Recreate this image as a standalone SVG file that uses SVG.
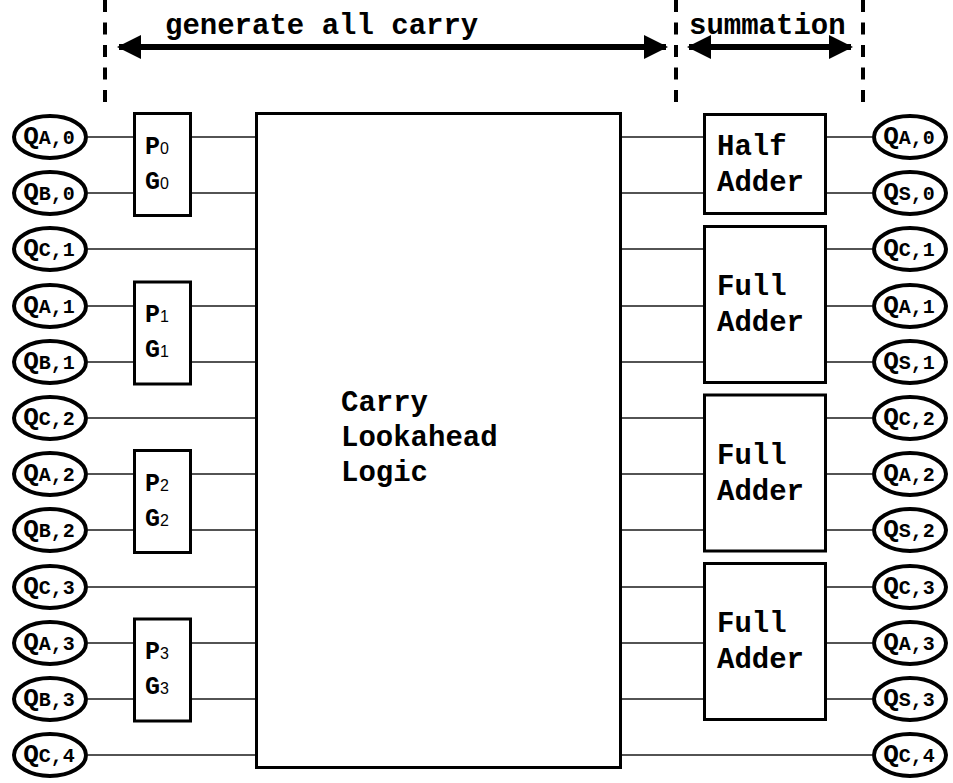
<svg xmlns="http://www.w3.org/2000/svg" width="953" height="783" viewBox="0 0 953 783">
<style>
.box{fill:#fff;stroke:#000;stroke-width:3}
.ell{fill:#fff;stroke:#000;stroke-width:4}
.w{stroke:#1a1a1a;stroke-width:1.5;fill:none}
.dash{stroke:#000;stroke-width:4;stroke-dasharray:12 10.5;fill:none}
.arr{stroke:#000;stroke-width:6;fill:none}
.mono{font-family:"Liberation Mono","Courier New",monospace;font-weight:bold;fill:#000}
.big{font-size:29px}
.q{font-size:26px;text-anchor:middle}
.s{font-size:20px}
.pg{font-size:25px}
.sub{font-family:"Liberation Sans",Arial,sans-serif;font-weight:normal;font-size:16px}
</style>
<defs>
<marker id="ah" viewBox="0 0 24 24" markerWidth="24" markerHeight="24" refX="22" refY="12" orient="auto-start-reverse" markerUnits="userSpaceOnUse">
<path d="M0,0 L24,12 L0,24 Z" fill="#000"/>
</marker>
</defs>
<rect width="953" height="783" fill="#fff"/>
<g id="connectors">
<line class="dash" x1="105" y1="0" x2="105" y2="112"/>
<line class="dash" x1="676" y1="0" x2="676" y2="112"/>
<line class="dash" x1="863" y1="0" x2="863" y2="112"/>
<line class="arr" x1="119" y1="47" x2="666" y2="47" marker-start="url(#ah)" marker-end="url(#ah)"/>
<line class="arr" x1="689" y1="47" x2="851" y2="47" marker-start="url(#ah)" marker-end="url(#ah)"/>
<!-- left side -->
<line class="w" x1="88" y1="137" x2="133" y2="137"/><line class="w" x1="192" y1="137" x2="255" y2="137"/>
<line class="w" x1="88" y1="193" x2="133" y2="193"/><line class="w" x1="192" y1="193" x2="255" y2="193"/>
<line class="w" x1="88" y1="249" x2="255" y2="249"/>
<line class="w" x1="88" y1="306" x2="133" y2="306"/><line class="w" x1="192" y1="306" x2="255" y2="306"/>
<line class="w" x1="88" y1="362" x2="133" y2="362"/><line class="w" x1="192" y1="362" x2="255" y2="362"/>
<line class="w" x1="88" y1="418" x2="255" y2="418"/>
<line class="w" x1="88" y1="474" x2="133" y2="474"/><line class="w" x1="192" y1="474" x2="255" y2="474"/>
<line class="w" x1="88" y1="530" x2="133" y2="530"/><line class="w" x1="192" y1="530" x2="255" y2="530"/>
<line class="w" x1="88" y1="587" x2="255" y2="587"/>
<line class="w" x1="88" y1="643" x2="133" y2="643"/><line class="w" x1="192" y1="643" x2="255" y2="643"/>
<line class="w" x1="88" y1="699" x2="133" y2="699"/><line class="w" x1="192" y1="699" x2="255" y2="699"/>
<line class="w" x1="88" y1="755" x2="255" y2="755"/>
<!-- right side -->
<line class="w" x1="622" y1="137" x2="703" y2="137"/><line class="w" x1="827" y1="137" x2="872" y2="137"/>
<line class="w" x1="622" y1="193" x2="703" y2="193"/><line class="w" x1="827" y1="193" x2="872" y2="193"/>
<line class="w" x1="622" y1="249" x2="703" y2="249"/><line class="w" x1="827" y1="249" x2="872" y2="249"/>
<line class="w" x1="622" y1="306" x2="703" y2="306"/><line class="w" x1="827" y1="306" x2="872" y2="306"/>
<line class="w" x1="622" y1="362" x2="703" y2="362"/><line class="w" x1="827" y1="362" x2="872" y2="362"/>
<line class="w" x1="622" y1="418" x2="703" y2="418"/><line class="w" x1="827" y1="418" x2="872" y2="418"/>
<line class="w" x1="622" y1="474" x2="703" y2="474"/><line class="w" x1="827" y1="474" x2="872" y2="474"/>
<line class="w" x1="622" y1="530" x2="703" y2="530"/><line class="w" x1="827" y1="530" x2="872" y2="530"/>
<line class="w" x1="622" y1="587" x2="703" y2="587"/><line class="w" x1="827" y1="587" x2="872" y2="587"/>
<line class="w" x1="622" y1="643" x2="703" y2="643"/><line class="w" x1="827" y1="643" x2="872" y2="643"/>
<line class="w" x1="622" y1="699" x2="703" y2="699"/><line class="w" x1="827" y1="699" x2="872" y2="699"/>
<line class="w" x1="622" y1="755" x2="872" y2="755"/>
</g>
<text class="mono big" x="165" y="34">generate all carry</text>
<text class="mono big" x="689" y="34">summation</text>
<g id="cla">
<rect class="box" x="256.5" y="113.5" width="364" height="654"/>
<text class="mono big" x="341" y="411">Carry</text>
<text class="mono big" x="341" y="446">Lookahead</text>
<text class="mono big" x="341" y="481">Logic</text>
</g>
<g id="pg0"><rect class="box" x="134.5" y="113.5" width="56" height="102"/>
<text class="mono pg" x="145" y="154">P<tspan class="sub">0</tspan></text>
<text class="mono pg" x="145" y="189">G<tspan class="sub">0</tspan></text></g>
<g id="pg1"><rect class="box" x="134.5" y="282" width="56" height="102"/>
<text class="mono pg" x="145" y="322">P<tspan class="sub">1</tspan></text>
<text class="mono pg" x="145" y="357">G<tspan class="sub">1</tspan></text></g>
<g id="pg2"><rect class="box" x="134.5" y="450.5" width="56" height="102"/>
<text class="mono pg" x="145" y="491">P<tspan class="sub">2</tspan></text>
<text class="mono pg" x="145" y="526">G<tspan class="sub">2</tspan></text></g>
<g id="pg3"><rect class="box" x="134.5" y="619" width="56" height="102"/>
<text class="mono pg" x="145" y="659">P<tspan class="sub">3</tspan></text>
<text class="mono pg" x="145" y="694">G<tspan class="sub">3</tspan></text></g>
<g id="ha0"><rect class="box" x="704.5" y="114.5" width="121" height="99"/>
<text class="mono big" x="717" y="155">Half</text>
<text class="mono big" x="717" y="191">Adder</text></g>
<g id="fa1"><rect class="box" x="704.5" y="226.5" width="121" height="156"/>
<text class="mono big" x="717" y="295">Full</text>
<text class="mono big" x="717" y="331">Adder</text></g>
<g id="fa2"><rect class="box" x="704.5" y="395" width="121" height="156"/>
<text class="mono big" x="717" y="463.5">Full</text>
<text class="mono big" x="717" y="499.5">Adder</text></g>
<g id="fa3"><rect class="box" x="704.5" y="563.5" width="121" height="156"/>
<text class="mono big" x="717" y="632">Full</text>
<text class="mono big" x="717" y="668">Adder</text></g>
<g id="inA0"><ellipse class="ell" cx="50" cy="137" rx="36" ry="21"/><text class="mono q" x="49" y="144">Q<tspan class="s">A,0</tspan></text></g>
<g id="inB0"><ellipse class="ell" cx="50" cy="193" rx="36" ry="21"/><text class="mono q" x="49" y="200">Q<tspan class="s">B,0</tspan></text></g>
<g id="inC1"><ellipse class="ell" cx="50" cy="249" rx="36" ry="21"/><text class="mono q" x="49" y="256">Q<tspan class="s">C,1</tspan></text></g>
<g id="inA1"><ellipse class="ell" cx="50" cy="306" rx="36" ry="21"/><text class="mono q" x="49" y="313">Q<tspan class="s">A,1</tspan></text></g>
<g id="inB1"><ellipse class="ell" cx="50" cy="362" rx="36" ry="21"/><text class="mono q" x="49" y="369">Q<tspan class="s">B,1</tspan></text></g>
<g id="inC2"><ellipse class="ell" cx="50" cy="418" rx="36" ry="21"/><text class="mono q" x="49" y="425">Q<tspan class="s">C,2</tspan></text></g>
<g id="inA2"><ellipse class="ell" cx="50" cy="474" rx="36" ry="21"/><text class="mono q" x="49" y="481">Q<tspan class="s">A,2</tspan></text></g>
<g id="inB2"><ellipse class="ell" cx="50" cy="530" rx="36" ry="21"/><text class="mono q" x="49" y="537">Q<tspan class="s">B,2</tspan></text></g>
<g id="inC3"><ellipse class="ell" cx="50" cy="587" rx="36" ry="21"/><text class="mono q" x="49" y="594">Q<tspan class="s">C,3</tspan></text></g>
<g id="inA3"><ellipse class="ell" cx="50" cy="643" rx="36" ry="21"/><text class="mono q" x="49" y="650">Q<tspan class="s">A,3</tspan></text></g>
<g id="inB3"><ellipse class="ell" cx="50" cy="699" rx="36" ry="21"/><text class="mono q" x="49" y="706">Q<tspan class="s">B,3</tspan></text></g>
<g id="inC4"><ellipse class="ell" cx="50" cy="755" rx="36" ry="21"/><text class="mono q" x="49" y="762">Q<tspan class="s">C,4</tspan></text></g>
<g id="outA0"><ellipse class="ell" cx="910" cy="137" rx="36" ry="21"/><text class="mono q" x="909" y="144">Q<tspan class="s">A,0</tspan></text></g>
<g id="outS0"><ellipse class="ell" cx="910" cy="193" rx="36" ry="21"/><text class="mono q" x="909" y="200">Q<tspan class="s">S,0</tspan></text></g>
<g id="outC1"><ellipse class="ell" cx="910" cy="249" rx="36" ry="21"/><text class="mono q" x="909" y="256">Q<tspan class="s">C,1</tspan></text></g>
<g id="outA1"><ellipse class="ell" cx="910" cy="306" rx="36" ry="21"/><text class="mono q" x="909" y="313">Q<tspan class="s">A,1</tspan></text></g>
<g id="outS1"><ellipse class="ell" cx="910" cy="362" rx="36" ry="21"/><text class="mono q" x="909" y="369">Q<tspan class="s">S,1</tspan></text></g>
<g id="outC2"><ellipse class="ell" cx="910" cy="418" rx="36" ry="21"/><text class="mono q" x="909" y="425">Q<tspan class="s">C,2</tspan></text></g>
<g id="outA2"><ellipse class="ell" cx="910" cy="474" rx="36" ry="21"/><text class="mono q" x="909" y="481">Q<tspan class="s">A,2</tspan></text></g>
<g id="outS2"><ellipse class="ell" cx="910" cy="530" rx="36" ry="21"/><text class="mono q" x="909" y="537">Q<tspan class="s">S,2</tspan></text></g>
<g id="outC3"><ellipse class="ell" cx="910" cy="587" rx="36" ry="21"/><text class="mono q" x="909" y="594">Q<tspan class="s">C,3</tspan></text></g>
<g id="outA3"><ellipse class="ell" cx="910" cy="643" rx="36" ry="21"/><text class="mono q" x="909" y="650">Q<tspan class="s">A,3</tspan></text></g>
<g id="outS3"><ellipse class="ell" cx="910" cy="699" rx="36" ry="21"/><text class="mono q" x="909" y="706">Q<tspan class="s">S,3</tspan></text></g>
<g id="outC4"><ellipse class="ell" cx="910" cy="755" rx="36" ry="21"/><text class="mono q" x="909" y="762">Q<tspan class="s">C,4</tspan></text></g>
</svg>
